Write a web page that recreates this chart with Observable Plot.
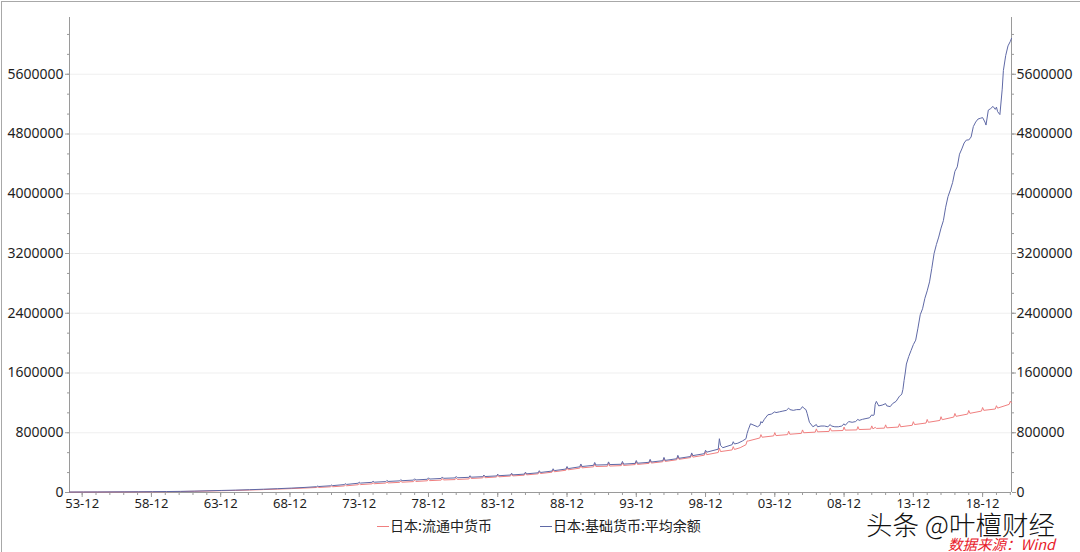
<!DOCTYPE html>
<html>
<head>
<meta charset="utf-8">
<script src="https://cdn.jsdelivr.net/npm/d3@7"></script>
<script src="https://cdn.jsdelivr.net/npm/@observablehq/plot@0.6"></script>
<style>
  html, body { margin: 0; padding: 0; background: #fff; }
  #wrap { position: relative; width: 1080px; height: 552px; overflow: hidden; background: #fff; }
  #chart { position: absolute; left: 0; top: 0; }
  .frameL { position: absolute; left: 1px; top: 1px; width: 1px; height: 551px; background: #a8a8a8; }
  .frameT { position: absolute; left: 1px; top: 1px; width: 1079px; height: 1px; background: #a8a8a8; }
  .leg { position: absolute; top: 515px; font-family: "Noto Sans CJK SC", "Noto Sans", sans-serif; font-size: 14px; color: #222; line-height: 20px; white-space: nowrap; }
  .leg .sw { display: inline-block; width: 12px; height: 1px; vertical-align: middle; margin-right: 1px; position: relative; top: -1px; }
  #wm { position: absolute; left: 866px; top: 512px; font-family: "Noto Sans CJK SC", sans-serif; font-size: 26.5px; color: #111; line-height: 23px; white-space: nowrap; text-shadow: 0 0 2px #fff, 0 0 2px #fff; font-weight: 300; }
  #src { position: absolute; left: 948px; top: 537px; font-family: "Noto Sans CJK SC", sans-serif; font-size: 14.5px; color: #e8202a; font-style: italic; line-height: 13px; white-space: nowrap; }
</style>
</head>
<body>
<div id="wrap">
  <div id="chart"></div>
  <div class="frameL"></div>
  <div class="frameT"></div>
  <div class="leg" id="leg1" style="left:377px"></div>
  <div class="leg" id="leg2" style="left:540px"></div>
  <div id="wm">头条 @叶檀财经</div>
  <div id="src">数据来源：Wind</div>
</div>
<script>
// ---------- data (units: 亿日元) ----------
const seriesNames = ["日本:流通中货币", "日本:基础货币:平均余额"];
const seriesColors = ["#f07f7f", "#5f69a6"];

const currency = [
  ["1953-01",5000],["1954-01",5500],["1955-01",6000],["1956-01",6800],["1957-01",7600],
  ["1958-01",8400],["1959-01",9500],["1960-01",11000],["1961-01",13000],["1962-01",16000],
  ["1963-01",20000],["1964-01",24000],["1965-01",28000],["1966-01",33000],["1967-01",39000],
  ["1968-01",45000],["1969-01",52000],["1970-01",60000],["1970-11",67000],["1970-12",75000],
  ["1971-01",68000],["1971-11",76000],["1971-12",86000],
  ["1972-01",77000],["1972-11",88000],["1972-12",100000],
  ["1973-01",90000],["1973-11",104000],["1973-12",118000],
  ["1974-01",106000],["1974-11",116000],["1974-12",130000],
  ["1975-01",118000],["1975-11",126000],["1975-12",142000],
  ["1976-01",128000],["1976-11",136000],["1976-12",153000],
  ["1977-01",138000],["1977-11",146000],["1977-12",164000],
  ["1978-01",148000],["1978-11",157000],["1978-12",177000],
  ["1979-01",159000],["1979-11",166000],["1979-12",186000],
  ["1980-01",168000],["1980-11",173000],["1980-12",193000],
  ["1981-01",175000],["1981-11",182000],["1981-12",205000],
  ["1982-01",188000],["1982-11",196000],["1982-12",218000],
  ["1983-01",198000],["1983-11",208000],["1983-12",232000],
  ["1984-01",210000],["1984-11",220000],["1984-12",245000],
  ["1985-01",222000],["1985-11",232000],["1985-12",258000],
  ["1986-01",236000],["1986-11",250000],["1986-12",278000],
  ["1987-01",254000],["1987-11",272000],["1987-12",302000],
  ["1988-01",278000],["1988-11",298000],["1988-12",332000],
  ["1989-01",304000],["1989-11",326000],["1989-12",362000],
  ["1990-01",330000],["1990-11",344000],["1990-12",382000],
  ["1991-01",348000],["1991-11",352000],["1991-12",390000],
  ["1992-01",354000],["1992-11",360000],["1992-12",398000],
  ["1993-01",362000],["1993-11",374000],["1993-12",412000],
  ["1994-01",376000],["1994-11",390000],["1994-12",430000],
  ["1995-01",394000],["1995-11",412000],["1995-12",454000],
  ["1996-01",416000],["1996-11",438000],["1996-12",482000],
  ["1997-01",444000],["1997-11",468000],["1997-12",514000],
  ["1998-01",474000],["1998-11",500000],["1998-12",546000],
  ["1999-01",506000],["1999-11",536000],["1999-12",596000],
  ["2000-01",548000],["2000-11",570000],["2000-12",614000],
  ["2001-01",576000],["2001-06",600000],["2001-11",640000],["2001-12",690000],
  ["2002-01",690000],["2002-11",730000],["2002-12",775000],
  ["2003-01",740000],["2003-11",758000],["2003-12",802000],
  ["2004-01",762000],["2004-11",775000],["2004-12",820000],
  ["2005-01",780000],["2005-11",792000],["2005-12",838000],
  ["2006-01",800000],["2006-11",808000],["2006-12",852000],
  ["2007-01",812000],["2007-11",818000],["2007-12",862000],
  ["2008-01",825000],["2008-11",830000],["2008-12",876000],
  ["2009-01",835000],["2009-11",838000],["2009-12",882000],
  ["2010-01",843000],["2010-11",848000],["2010-12",892000],
  ["2011-01",852000],["2011-03",872000],["2011-04",858000],["2011-11",862000],["2011-12",906000],
  ["2012-01",866000],["2012-11",876000],["2012-12",920000],
  ["2013-01",880000],["2013-11",900000],["2013-12",948000],
  ["2014-01",910000],["2014-11",930000],["2014-12",978000],
  ["2015-01",940000],["2015-11",965000],["2015-12",1015000],
  ["2016-01",975000],["2016-11",1010000],["2016-12",1058000],
  ["2017-01",1020000],["2017-11",1050000],["2017-12",1098000],
  ["2018-01",1060000],["2018-11",1090000],["2018-12",1138000],
  ["2019-01",1100000],["2019-11",1118000],["2019-12",1162000],
  ["2020-01",1130000],["2020-11",1180000],["2020-12",1222000],
  ["2021-01",1200000]
];

const monetaryBase = [
  ["1953-01",6500],["1954-01",7000],["1955-01",7500],["1956-01",8300],["1957-01",9200],
  ["1958-01",10000],["1959-01",11200],["1960-01",12800],["1961-01",15000],["1962-01",18500],
  ["1963-01",23000],["1964-01",27500],["1965-01",32000],["1966-01",37500],["1967-01",44000],
  ["1968-01",51000],["1969-01",59000],["1970-01",68000],["1970-11",78000],["1970-12",86000],
  ["1971-01",80000],["1971-11",90000],["1971-12",100000],
  ["1972-01",92000],["1972-11",106000],["1972-12",118000],
  ["1973-01",108000],["1973-11",124000],["1973-12",138000],
  ["1974-01",126000],["1974-11",136000],["1974-12",151000],
  ["1975-01",138000],["1975-11",146000],["1975-12",162000],
  ["1976-01",148000],["1976-11",156000],["1976-12",173000],
  ["1977-01",158000],["1977-11",166000],["1977-12",184000],
  ["1978-01",168000],["1978-11",177000],["1978-12",197000],
  ["1979-01",180000],["1979-11",188000],["1979-12",208000],
  ["1980-01",190000],["1980-11",195000],["1980-12",215000],
  ["1981-01",197000],["1981-11",203000],["1981-12",225000],
  ["1982-01",205000],["1982-11",212000],["1982-12",234000],
  ["1983-01",214000],["1983-11",222000],["1983-12",246000],
  ["1984-01",225000],["1984-11",234000],["1984-12",258000],
  ["1985-01",236000],["1985-11",246000],["1985-12",272000],
  ["1986-01",250000],["1986-11",264000],["1986-12",292000],
  ["1987-01",268000],["1987-11",287000],["1987-12",318000],
  ["1988-01",293000],["1988-11",314000],["1988-12",348000],
  ["1989-01",320000],["1989-11",344000],["1989-12",382000],
  ["1990-01",348000],["1990-11",364000],["1990-12",402000],
  ["1991-01",368000],["1991-11",372000],["1991-12",410000],
  ["1992-01",374000],["1992-11",378000],["1992-12",416000],
  ["1993-01",380000],["1993-11",390000],["1993-12",428000],
  ["1994-01",392000],["1994-11",404000],["1994-12",444000],
  ["1995-01",408000],["1995-11",426000],["1995-12",470000],
  ["1996-01",430000],["1996-11",452000],["1996-12",498000],
  ["1997-01",458000],["1997-11",482000],["1997-12",530000],
  ["1998-01",494000],["1998-11",520000],["1998-12",566000],
  ["1999-01",540000],["1999-11",580000],["1999-12",720000],
  ["2000-01",630000],["2000-03",600000],["2000-11",640000],["2000-12",680000],
  ["2001-01",650000],["2001-04",660000],["2001-08",690000],["2001-11",720000],["2001-12",790000],
  ["2002-01",840000],["2002-03",920000],["2002-06",900000],["2002-09",880000],["2002-11",900000],["2002-12",950000],
  ["2003-01",930000],["2003-03",980000],["2003-06",1040000],["2003-09",1050000],["2003-12",1080000],
  ["2004-01",1070000],["2004-04",1080000],["2004-07",1090000],["2004-10",1100000],["2004-12",1130000],
  ["2005-01",1110000],["2005-04",1100000],["2005-07",1110000],["2005-10",1110000],["2005-12",1150000],
  ["2006-01",1130000],["2006-03",1110000],["2006-04",1060000],["2006-06",940000],["2006-09",880000],["2006-12",910000],
  ["2007-01",880000],["2007-04",890000],["2007-07",890000],["2007-10",880000],["2007-12",910000],
  ["2008-01",890000],["2008-04",880000],["2008-07",880000],["2008-10",890000],["2008-12",920000],
  ["2009-01",900000],["2009-04",950000],["2009-07",940000],["2009-10",950000],["2009-12",980000],
  ["2010-01",965000],["2010-04",980000],["2010-07",990000],["2010-10",1000000],["2010-12",1040000],
  ["2011-01",1030000],["2011-02",1040000],["2011-03",1180000],["2011-04",1220000],["2011-06",1160000],["2011-09",1170000],["2011-12",1190000],
  ["2012-01",1160000],["2012-04",1150000],["2012-06",1190000],["2012-09",1220000],["2012-12",1290000],
  ["2013-01",1300000],["2013-02",1320000],["2013-03",1380000],["2013-04",1500000],["2013-05",1600000],["2013-06",1720000],["2013-08",1820000],["2013-10",1900000],["2013-12",1980000],
  ["2014-02",2040000],["2014-04",2200000],["2014-06",2380000],["2014-08",2460000],["2014-10",2600000],["2014-12",2700000],
  ["2015-02",2820000],["2015-04",3000000],["2015-06",3200000],["2015-08",3320000],["2015-10",3420000],["2015-12",3540000],
  ["2016-02",3640000],["2016-04",3820000],["2016-06",3960000],["2016-08",4050000],["2016-10",4150000],["2016-12",4300000],
  ["2017-02",4360000],["2017-04",4530000],["2017-06",4600000],["2017-08",4680000],["2017-10",4720000],["2017-12",4720000],
  ["2018-02",4760000],["2018-04",4900000],["2018-06",4960000],["2018-08",5000000],["2018-10",5010000],["2018-12",5020000],
  ["2019-02",4960000],["2019-03",4920000],["2019-05",5120000],["2019-07",5140000],["2019-09",5170000],["2019-11",5130000],["2019-12",5160000],
  ["2020-01",5100000],["2020-03",5060000],["2020-05",5400000],["2020-06",5650000],["2020-08",5850000],["2020-10",5980000],["2020-12",6040000],
  ["2021-01",6080000]
];

// axis settings
const xRange = ["1953-01", "2021-01"];
const xTickYears = [1953, 1958, 1963, 1968, 1973, 1978, 1983, 1988, 1993, 1998, 2003, 2008, 2013, 2018];
const yMax = 6360000;
const yMajorTicks = [0, 800000, 1600000, 2400000, 3200000, 4000000, 4800000, 5600000];
const yMinorStep = 800000 / 3;

// ---------- build ----------
const parse = d3.utcParse("%Y-%m");
const rows = [
  ...currency.map(([d, v]) => ({date: parse(d), value: v, s: 0})),
  ...monetaryBase.map(([d, v]) => ({date: parse(d), value: v, s: 1}))
];
const xDomain = xRange.map(parse);
const xMajor = xTickYears.map(y => new Date(Date.UTC(y, 11, 1)));
const xMinor = d3.range(xTickYears[0], 2021).map(y => new Date(Date.UTC(y, 11, 1)));
const yMinor = d3.range(0, yMax, yMinorStep);
const fmtX = d3.utcFormat("%y-%m");
const axisColor = "#9a9a9a";

const chart = Plot.plot({
  width: 1080,
  height: 512,
  marginLeft: 69,
  marginRight: 69,
  marginTop: 17,
  marginBottom: 20,
  style: {fontFamily: "'Noto Sans', sans-serif", color: "#1e1e1e", background: "transparent", overflow: "visible"},
  x: {type: "utc", domain: xDomain},
  y: {domain: [0, yMax]},
  marks: [
    Plot.gridY(yMajorTicks.filter(v => v > 0), {stroke: "#efefef", strokeOpacity: 1}),
    Plot.axisY(yMinor, {anchor: "left", tickSize: 2, tickFormat: () => "", stroke: axisColor, label: null}),
    Plot.axisY(yMajorTicks, {anchor: "left", tickSize: 4, tickPadding: 2, tickFormat: d => String(d), fontSize: 14, stroke: axisColor, label: null}),
    Plot.axisY(yMinor, {anchor: "right", tickSize: 2, tickFormat: () => "", stroke: axisColor, label: null}),
    Plot.axisY(yMajorTicks, {anchor: "right", tickSize: 4, tickPadding: 1, tickFormat: d => String(d), fontSize: 14, stroke: axisColor, label: null}),
    Plot.axisX(xMinor, {tickSize: 3, tickFormat: () => "", stroke: axisColor, label: null}),
    Plot.axisX(xMajor, {tickSize: 5, tickPadding: 1, tickFormat: d => fmtX(d), fontSize: 13, stroke: axisColor, label: null}),
    Plot.ruleX(xDomain, {stroke: axisColor}),
    Plot.ruleY([0], {stroke: axisColor}),
    Plot.line(rows.filter(d => d.s === 0), {x: "date", y: "value", stroke: seriesColors[0], strokeWidth: 1}),
    Plot.line(rows.filter(d => d.s === 1), {x: "date", y: "value", stroke: seriesColors[1], strokeWidth: 1})
  ]
});
document.getElementById("chart").appendChild(chart);

// legend
["leg1", "leg2"].forEach((id, i) => {
  const el = document.getElementById(id);
  const sw = document.createElement("span");
  sw.className = "sw";
  sw.style.background = seriesColors[i];
  el.appendChild(sw);
  el.appendChild(document.createTextNode(seriesNames[i]));
});
</script>
</body>
</html>
